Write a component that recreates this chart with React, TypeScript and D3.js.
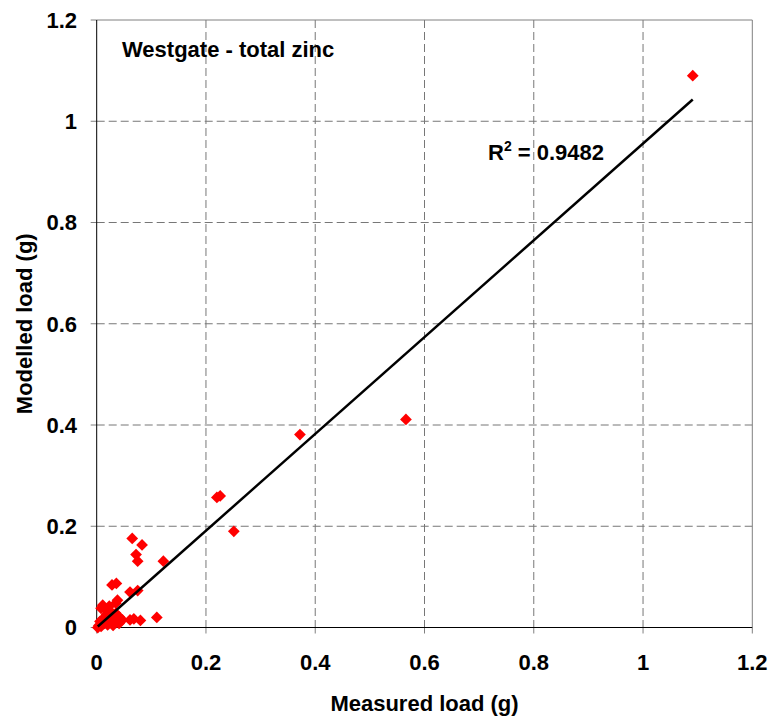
import React from "react";
import * as d3 from "d3";

const measured: number[] = [
  1.091, 0.566, 0.372, 0.22, 0.226, 0.251, 0.065, 0.083, 0.072, 0.075, 0.122,
  0.028, 0.036, 0.061, 0.075, 0.038, 0.035, 0.023, 0.011, 0.008, 0.016, 0.026,
  0.035, 0.041, 0.032, 0.02, 0.014, 0.008, 0.002, 0.004, 0.041, 0.047, 0.061,
  0.068, 0.08, 0.11, 0.03, 0.018, 0.012, 0.025, 0.036, 0.006, 0.02, 0.03,
];
const modelled: number[] = [
  1.09, 0.411, 0.381, 0.257, 0.26, 0.19, 0.176, 0.163, 0.144, 0.131, 0.131,
  0.084, 0.087, 0.07, 0.073, 0.054, 0.048, 0.042, 0.044, 0.038, 0.036, 0.031,
  0.028, 0.021, 0.015, 0.015, 0.008, 0.002, 0.0, 0.004, 0.008, 0.015, 0.015,
  0.017, 0.014, 0.02, 0.022, 0.025, 0.018, 0.01, 0.012, 0.012, 0.005, 0.004,
];
const tickValues: number[] = [0, 0.2, 0.4, 0.6, 0.8, 1, 1.2];
const trendSlope = 0.956;
const trendIntercept = 0.0;
const rSquared = "0.9482";
const chartTitle = "Westgate - total zinc";
const xTitle = "Measured load (g)";
const yTitle = "Modelled load (g)";

const W = 769;
const H = 719;
const left = 96.7;
const right = 752.3;
const top = 20;
const bottom = 627.5;
const FONT = "'Liberation Sans', Arial, sans-serif";
const FS = 22;

export default function App() {
  const x = d3.scaleLinear().domain([0, 1.2]).range([left, right]);
  const y = d3.scaleLinear().domain([0, 1.2]).range([bottom, top]);
  const diamond = d3.symbol().type(d3.symbolDiamond2).size(88)();
  const xExt = d3.extent(measured) as [number, number];
  const trend = d3.line<number>()
    .x((d) => x(d))
    .y((d) => y(trendSlope * d + trendIntercept));
  const fmt = (v: number) => String(v);
  const grid = tickValues.filter((v) => v > 0 && v < 1.2);

  return (
    <svg
      width={W}
      height={H}
      style={{ position: "absolute", left: 0, top: 0, background: "#fff" }}
      fontFamily={FONT}
      fontWeight="bold"
    >
      <rect x={0} y={0} width={W} height={H} fill="#fff" />
      {grid.map((v) => (
        <line key={"gx" + v} x1={x(v)} x2={x(v)} y1={top} y2={bottom}
          stroke="#777" strokeWidth={1} strokeDasharray="8,4" />
      ))}
      {grid.map((v) => (
        <line key={"gy" + v} x1={left} x2={right} y1={y(v)} y2={y(v)}
          stroke="#777" strokeWidth={1} strokeDasharray="8,4" />
      ))}
      <line x1={left} x2={right} y1={top} y2={top} stroke="#808080" strokeWidth={1} />
      <line x1={right} x2={right} y1={top} y2={bottom} stroke="#808080" strokeWidth={1} />
      {tickValues.map((v) => (
        <line key={"tx" + v} x1={x(v)} x2={x(v)} y1={bottom} y2={bottom + 6}
          stroke="#808080" strokeWidth={1} />
      ))}
      {tickValues.map((v) => (
        <line key={"ty" + v} x1={left - 6} x2={left} y1={y(v)} y2={y(v)}
          stroke="#808080" strokeWidth={1} />
      ))}
      <line x1={left} x2={left} y1={top} y2={bottom} stroke="#000" strokeWidth={1} />
      <line x1={left} x2={right} y1={bottom} y2={bottom} stroke="#000" strokeWidth={1} />
      {tickValues.map((v) => (
        <text key={"lx" + v} x={x(v)} y={670} textAnchor="middle" fontSize={FS}>
          {fmt(v)}
        </text>
      ))}
      {tickValues.map((v) => (
        <text key={"ly" + v} x={77} y={y(v)} dy="0.36em" textAnchor="end" fontSize={FS}>
          {fmt(v)}
        </text>
      ))}
      {measured.map((m, i) => (
        <path key={"p" + i} d={diamond}
          transform={`translate(${x(m)},${y(modelled[i])})`} fill="#ff0000" />
      ))}
      <path d={trend(xExt) || ""} fill="none" stroke="#000" strokeWidth={2.5} />
      <text x={122} y={57} fontSize={FS}>{chartTitle}</text>
      <text x={488} y={160} fontSize={FS}>
        R<tspan dy={-9} fontSize={14}>2</tspan>
        <tspan dy={9}> = {rSquared}</tspan>
      </text>
      <text x={(left + right) / 2} y={711} textAnchor="middle" fontSize={FS}>
        {xTitle}
      </text>
      <text transform={`translate(32,${(top + bottom) / 2}) rotate(-90)`}
        textAnchor="middle" fontSize={FS}>
        {yTitle}
      </text>
    </svg>
  );
}
